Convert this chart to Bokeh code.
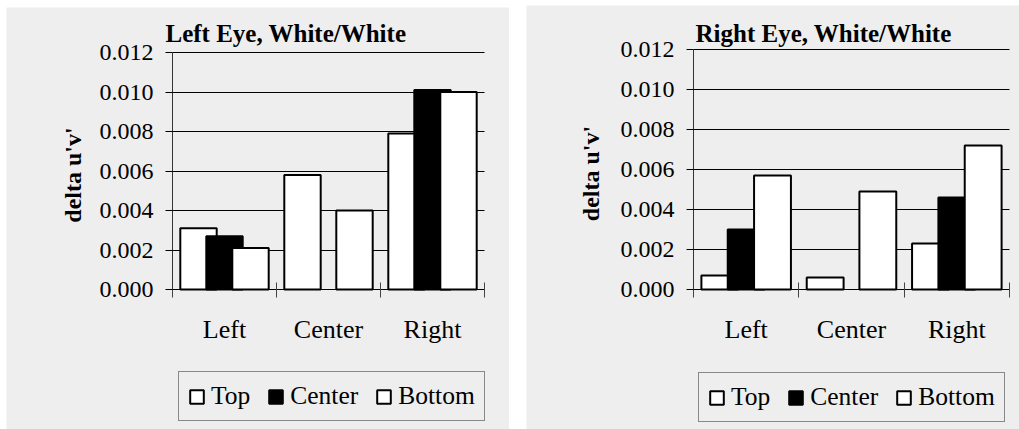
import numpy as np
from bokeh.plotting import figure
from bokeh.models import (ColumnDataSource, Range1d, FixedTicker, Legend, LegendItem,
                          NumeralTickFormatter, Label)
from bokeh.transform import dodge
from bokeh.layouts import row
from bokeh.embed import file_html
from bokeh.resources import INLINE

# ---- data ----
categories = ["Left", "Center", "Right"]
series = ["Top", "Center", "Bottom"]
left_top = [0.0031, 0.0058, 0.0079]
left_center = [0.0027, None, 0.0101]
left_bottom = [0.0021, 0.0040, 0.0100]
right_top = [0.0007, 0.0006, 0.0023]
right_center = [0.0030, None, 0.0046]
right_bottom = [0.0057, 0.0049, 0.0072]
y_ticks = [0.000, 0.002, 0.004, 0.006, 0.008, 0.010, 0.012]
titles = ["Left Eye, White/White", "Right Eye, White/White"]
y_label = "delta u'v'"

FONT = "Liberation Serif"
BG = "#eeeeee"
series_fill = ["white", "black", "white"]
offsets = [-0.25, 0.0, 0.25]


def make_panel(title, vals, width, height, axis_px, right_px, top_px, zero_px,
               title_dx, title_dy, ylabel_dx, legend_xy):
    # the frame covers the whole figure; axes are pinned at x=0 and y=0
    n = len(categories)
    ymax = y_ticks[-1]
    per_y = ymax / (zero_px - top_px)
    per_x = n / (right_px - axis_px)
    x_range = Range1d(-axis_px * per_x, n + (width - right_px) * per_x)
    y_range = Range1d(-(height - zero_px) * per_y, ymax + top_px * per_y)
    p = figure(frame_width=width, frame_height=height,
               min_border_left=0, min_border_right=0,
               min_border_top=0, min_border_bottom=0,
               x_range=x_range, y_range=y_range,
               output_backend="svg", toolbar_location=None)
    p.background_fill_color = BG
    p.border_fill_color = BG
    p.outline_line_color = None

    centers = [i + 0.5 for i in range(n)]
    data = {"x": centers}
    for s, v in zip(series, vals):
        data[s] = [np.nan if a is None else a for a in v]
    src = ColumnDataSource(data)

    p.xgrid.visible = False
    p.ygrid.ticker = FixedTicker(ticks=y_ticks)
    p.ygrid.grid_line_color = "black"
    p.ygrid.grid_line_width = 1
    p.ygrid.cross_bounds = (0, n)

    renderers = []
    for s, fc, off in zip(series, series_fill, offsets):
        r = p.vbar(x=dodge("x", off, range=p.x_range), top=s, width=0.35, bottom=0,
                   source=src, fill_color=fc, line_color="black", line_width=2)
        renderers.append(r)

    # x axis, pinned at y = 0
    xa = p.xaxis[0]
    xa.fixed_location = 0
    xa.bounds = (0, n)
    xa.ticker = FixedTicker(ticks=centers, minor_ticks=list(range(n + 1)))
    xa.major_label_overrides = {c: lab for c, lab in zip(centers, categories)}
    xa.major_tick_line_color = None
    xa.major_tick_in = 0
    xa.major_tick_out = 0
    xa.minor_tick_in = 7
    xa.minor_tick_out = 8
    xa.minor_tick_line_color = "#444444"
    xa.minor_tick_line_width = 1
    xa.axis_line_color = "black"
    xa.major_label_text_font = FONT
    xa.major_label_text_font_size = "26px"
    xa.major_label_text_color = "black"
    xa.major_label_standoff = 17

    # y axis, pinned at x = 0
    ya = p.yaxis[0]
    ya.fixed_location = 0
    ya.bounds = (0, ymax)
    ya.ticker = FixedTicker(ticks=y_ticks)
    ya.formatter = NumeralTickFormatter(format="0.000")
    ya.major_tick_in = 0
    ya.major_tick_out = 7
    ya.major_tick_line_color = "black"
    ya.minor_tick_line_color = None
    ya.axis_line_color = "#333333"
    ya.major_label_text_font = FONT
    ya.major_label_text_font_size = "24px"
    ya.major_label_text_color = "black"
    ya.major_label_standoff = 12

    # y axis title
    p.add_layout(Label(x=0, y=ymax / 2, x_offset=ylabel_dx, y_offset=-4, text=y_label,
                       angle=np.pi / 2, text_align="center", text_baseline="middle",
                       text_font=FONT, text_font_size="24px", text_font_style="bold",
                       text_color="black"))

    # chart title
    p.add_layout(Label(x=0, y=ymax, x_offset=title_dx, y_offset=title_dy, text=title,
                       text_baseline="alphabetic", text_align="left",
                       text_font=FONT, text_font_size="25px", text_font_style="bold",
                       text_color="black"))

    legend = Legend(items=[LegendItem(label=s, renderers=[r]) for s, r in zip(series, renderers)],
                    orientation="horizontal", location=legend_xy)
    legend.label_text_font = FONT
    legend.label_text_font_size = "25.5px"
    legend.label_text_color = "black"
    legend.glyph_width = 17
    legend.glyph_height = 17
    legend.label_standoff = 6
    legend.spacing = 17
    legend.padding = 9
    legend.margin = 0
    legend.border_line_color = "#222222"
    legend.border_line_width = 1
    legend.background_fill_color = BG
    legend.background_fill_alpha = 1
    p.add_layout(legend, "center")
    return p


p1 = make_panel(titles[0], [left_top, left_center, left_bottom],
                width=503, height=422, axis_px=166, right_px=478, top_px=45, zero_px=282,
                title_dx=-7, title_dy=19, ylabel_dx=-100, legend_xy=(172, 8))
p2 = make_panel(titles[1], [right_top, right_center, right_bottom],
                width=493, height=424, axis_px=167, right_px=483, top_px=44, zero_px=284,
                title_dx=2, title_dy=16, ylabel_dx=-103, legend_xy=(172, 7))
p1.margin = (7, 0, 0, 6)
p2.margin = (5, 0, 0, 0)

layout = row(p1, p2, spacing=17)
open("out.html", "w").write(file_html(layout, INLINE))
